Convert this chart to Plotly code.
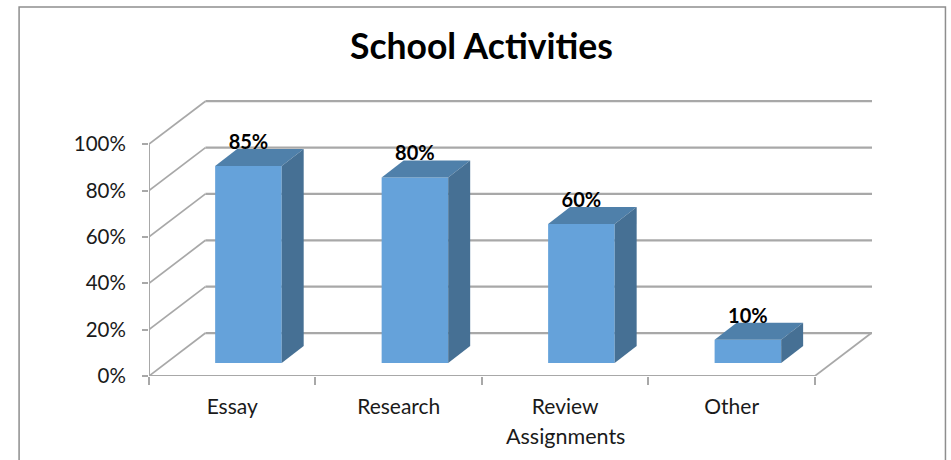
import plotly.graph_objects as go

categories = ["Essay", "Research", "Review Assignments", "Other"]
values = [85, 80, 60, 10]
y_ticks = [0, 20, 40, 60, 80, 100]
title = "School Activities"

W, H = 951, 460
L, R, T, B = 148.5, 872, 99.5, 375.7
PX_X, PX_Y = 166.6, 2.32
xmax = (R - L) / PX_X
ymax = (B - T) / PX_Y
n = len(categories)

wall_dx, wall_dy = 56.5 / PX_X, 43 / PX_Y
bar_dx, bar_dy = 16.2 / PX_X, 13 / PX_Y
depth_dx, depth_dy = 22 / PX_X, 17 / PX_Y
bar_w = 66.6 / PX_X
label_gap = 22.3 / PX_Y

FONT = "Lato"
LINE = "#a8a8a8"
FRONT, TOP, SIDE = "#65a2da", "#4f80aa", "#467094"

centers = [i + 0.5 for i in range(n)]
bar_x = [c + bar_dx for c in centers]

fig = go.Figure()
fig.add_trace(go.Bar(x=bar_x, y=values, base=[bar_dy] * n, width=bar_w,
                     marker=dict(color=FRONT, line=dict(width=0)), hoverinfo="skip"))

for x, v in zip(bar_x, values):
    x0, x1, y0, y1 = x - bar_w / 2, x + bar_w / 2, bar_dy, bar_dy + v
    fig.add_trace(go.Scatter(
        x=[x0, x1, x1 + depth_dx, x0 + depth_dx, x0],
        y=[y1, y1, y1 + depth_dy, y1 + depth_dy, y1],
        mode="lines", fill="toself", fillcolor=TOP, line=dict(width=0), hoverinfo="skip"))
    fig.add_trace(go.Scatter(
        x=[x1, x1 + depth_dx, x1 + depth_dx, x1, x1],
        y=[y0, y0 + depth_dy, y1 + depth_dy, y1, y0],
        mode="lines", fill="toself", fillcolor=SIDE, line=dict(width=0), hoverinfo="skip"))

fig.add_trace(go.Scatter(
    x=bar_x, y=[bar_dy + v + label_gap for v in values],
    text=[f"<b>{v}%</b>" for v in values], mode="text", textposition="middle center",
    textfont=dict(family=FONT, size=20, color="#000000"), cliponaxis=False, hoverinfo="skip"))

shapes = []
def seg(x0, y0, x1, y1, w=1.7):
    shapes.append(dict(type="line", xref="x", yref="y", x0=x0, y0=y0, x1=x1, y1=y1,
                       layer="below", line=dict(color=LINE, width=w)))

for t in y_ticks:
    seg(0, t, wall_dx, t + wall_dy)
    seg(wall_dx, t + wall_dy, xmax, t + wall_dy, 2.2)
seg(0, 0, 0, 100, 2)
seg(0, 0, n, 0, 2.2)
seg(n, 0, n + wall_dx, wall_dy)

# outer chart frame, open at the bottom like the reference crop
pw, ph = R - L, B - T
fx = lambda px: (px - L) / pw
fy = lambda py: (B - py) / ph
frame = dict(type="path", xref="paper", yref="paper", layer="below",
             line=dict(color="#8e8e8e", width=1.5))
frame["path"] = (f"M {fx(18.5)} {fy(470)} L {fx(18.5)} {fy(6.5)} "
                 f"L {fx(945.5)} {fy(6.5)} L {fx(945.5)} {fy(470)}")
shapes.append(frame)

first_line = [c.split(" ")[0] for c in categories]
annotations = [dict(text=f"<b>{title}</b>", xref="paper", yref="paper", x=fx(481), y=fy(45),
                    xanchor="center", yanchor="middle", showarrow=False,
                    font=dict(family=FONT, size=35.5, color="#000000"))]
for c, cat in zip(centers, categories):
    words = cat.split(" ")
    if len(words) > 1:
        annotations.append(dict(text=" ".join(words[1:]), xref="x", yref="paper", x=c, y=fy(435.5),
                                xanchor="center", yanchor="middle", showarrow=False,
                                font=dict(family=FONT, size=21.5, color="#1a1a1a")))

fig.update_layout(
    width=W, height=H, autosize=False, showlegend=False, barmode="overlay",
    paper_bgcolor="white", plot_bgcolor="rgba(0,0,0,0)",
    margin=dict(l=L, r=W - R, t=T, b=H - B, pad=0),
    shapes=shapes, annotations=annotations,
    xaxis=dict(range=[0, xmax], showgrid=False, zeroline=False, showline=False,
               tickmode="array", tickvals=centers, ticktext=first_line, ticks="",
               ticklabelstandoff=16, tickfont=dict(family=FONT, size=21, color="#1a1a1a"),
               minor=dict(tickmode="array", tickvals=list(range(n + 1)), ticks="outside",
                          ticklen=8, tickwidth=1.5, tickcolor=LINE)),
    yaxis=dict(range=[0, ymax], showgrid=False, zeroline=False, showline=False,
               tickmode="array", tickvals=y_ticks, ticktext=[f"{t}%" for t in y_ticks],
               ticks="outside", ticklen=6, tickwidth=1.5, tickcolor=LINE, ticklabelstandoff=12,
               tickfont=dict(family=FONT, size=20.5, color="#1a1a1a")),
)

fig.write_html("out.html", config={"displayModeBar": False},
               post_script="document.body.style.margin='0';document.body.style.overflow='hidden';")
